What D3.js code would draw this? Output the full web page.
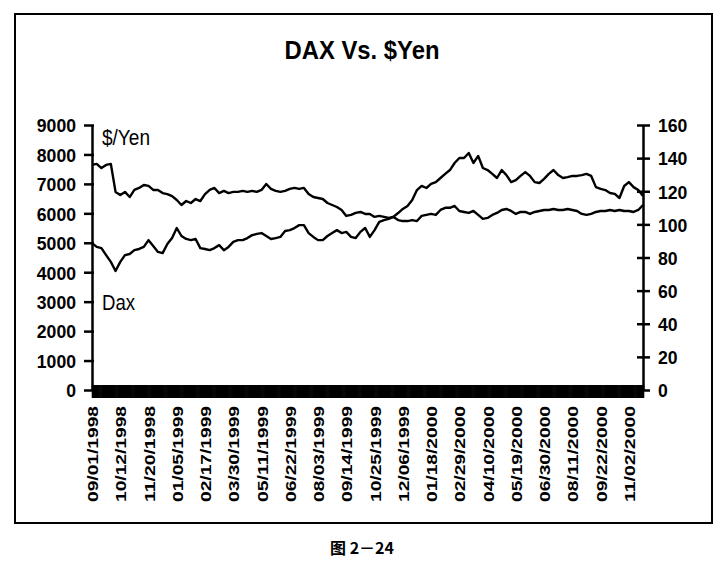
<!DOCTYPE html>
<html>
<head>
<meta charset="utf-8">
<script src="https://d3js.org/d3.v7.min.js"></script>
<style>
  body { margin: 0; background: #fff; }
</style>
</head>
<body>
<div id="chart"></div>
<script>
  const W = 725, H = 565

  // category labels shown under the x axis (one every 30 trading days)
  const tickLabels = ["09/01/1998", "10/12/1998", "11/20/1998", "01/05/1999", "02/17/1999",
    "03/30/1999", "05/11/1999", "06/22/1999", "08/03/1999", "09/14/1999",
    "10/25/1999", "12/06/1999", "01/18/2000", "02/29/2000", "04/10/2000",
    "05/19/2000", "06/30/2000", "08/11/2000", "09/22/2000", "11/02/2000"]
  const weeksPerLabel = 6

  // weekly readings, DAX (left axis)
  const dax = [4990, 4860, 4820, 4580, 4350, 4040, 4350, 4580, 4620, 4750,
    4790, 4860, 5090, 4890, 4690, 4650, 4960, 5160, 5500, 5230,
    5130, 5090, 5130, 4820, 4790, 4750, 4820, 4920, 4750, 4860,
    5030, 5090, 5090, 5160, 5260, 5300, 5330, 5230, 5130, 5160,
    5200, 5400, 5430, 5500, 5600, 5600, 5330, 5200, 5090, 5090,
    5230, 5330, 5430, 5330, 5370, 5200, 5160, 5370, 5500, 5200,
    5430, 5710, 5770, 5810, 5880, 6010, 6150, 6250, 6450, 6790,
    6930, 6860, 7000, 7060, 7200, 7340, 7470, 7710, 7880, 7880,
    8050, 7710, 7950, 7540, 7470, 7340, 7200, 7470, 7300, 7060,
    7130, 7270, 7400, 7270, 7060, 7030, 7170, 7340, 7470, 7300,
    7200, 7230, 7270, 7270, 7300, 7340, 7270, 6890, 6830, 6790,
    6690, 6660, 6520, 6930, 7060, 6890, 6790, 6590]

  // weekly readings, $/Yen (right axis)
  const yen = [135.9, 136.5, 134.0, 135.9, 136.5, 119.6, 117.7, 119.6, 116.5, 120.8,
    122.0, 123.8, 123.2, 120.8, 120.8, 118.9, 118.3, 117.1, 114.7, 111.7,
    114.1, 112.9, 115.3, 114.1, 118.3, 120.8, 122.0, 118.9, 120.2, 118.9,
    119.6, 119.6, 120.2, 119.6, 120.2, 119.6, 120.8, 124.4, 121.4, 120.2,
    119.6, 120.2, 121.4, 122.0, 121.4, 122.0, 118.3, 116.5, 115.9, 115.3,
    112.9, 111.7, 110.5, 108.7, 105.1, 105.7, 106.9, 107.5, 106.3, 106.3,
    104.5, 105.1, 104.5, 103.9, 104.5, 102.6, 102.0, 102.0, 102.6, 102.0,
    105.1, 105.7, 106.3, 105.7, 108.7, 110.0, 110.0, 111.1, 108.1, 107.5,
    106.9, 108.1, 105.7, 103.3, 103.9, 105.7, 106.9, 108.7, 109.3, 108.1,
    106.3, 107.5, 107.5, 106.3, 107.5, 108.1, 108.7, 108.7, 109.3, 108.7,
    108.7, 109.3, 108.7, 108.1, 106.3, 105.7, 106.3, 107.5, 108.1, 108.1,
    108.7, 108.1, 108.7, 108.1, 108.1, 107.5, 108.7, 111.7]

  const leftTicks = [0, 1000, 2000, 3000, 4000, 5000, 6000, 7000, 8000, 9000]
  const rightTicks = [0, 20, 40, 60, 80, 100, 120, 140, 160]

  const sans = "'Liberation Sans', Arial, sans-serif"
  const digitW = 9.8   // squeezed width of one tick-label digit

  const svg = d3.select("#chart")
    .append("svg")
    .attr("width", W)
    .attr("height", H)

  // chart frame
  svg.append("rect")
    .attr("x", 15).attr("y", 14)
    .attr("width", 697).attr("height", 509)
    .attr("fill", "none")
    .attr("stroke", "#000")
    .attr("stroke-width", 2)

  const x = d3.scaleLinear().domain([0, dax.length - 1]).range([92, 643])
  const yL = d3.scaleLinear().domain([0, 9000]).range([390, 125])
  const yR = d3.scaleLinear().domain([0, 160]).range([390, 125])

  // dense category tick marks -> the black band under the plot
  const band = svg.append("g")
    .attr("transform", "translate(0,385)")
    .call(d3.axisBottom(x)
      .tickValues(d3.range(0, dax.length - 0.99, 0.2))
      .tickSize(13)
      .tickFormat(""))
  band.select(".domain").remove()
  band.selectAll("line").attr("stroke-width", 1.6)

  // rotated date labels
  const xAxis = svg.append("g")
    .attr("transform", "translate(0,406)")
    .call(d3.axisBottom(x)
      .tickValues(tickLabels.map((d, i) => i * weeksPerLabel))
      .tickSize(0)
      .tickFormat((d, i) => tickLabels[i]))
  xAxis.select(".domain").remove()
  xAxis.selectAll("text")
    .attr("x", 0).attr("y", 0).attr("dy", "0.37em")
    .attr("transform", "rotate(-90)")
    .attr("text-anchor", "end")
    .attr("font-family", sans)
    .attr("font-weight", "bold")
    .attr("font-size", 15)
    .attr("textLength", 96)
    .attr("lengthAdjust", "spacingAndGlyphs")

  function styleNums(sel) {
    sel.attr("font-family", sans)
      .attr("font-weight", "bold")
      .attr("font-size", 19)
      .attr("dy", "0.36em")
      .attr("textLength", function () { return this.textContent.length * digitW })
      .attr("lengthAdjust", "spacingAndGlyphs")
  }

  // left axis
  const left = svg.append("g")
    .attr("transform", "translate(92,0)")
    .call(d3.axisLeft(yL).tickValues(leftTicks).tickFormat(d3.format("d"))
      .tickSize(8).tickSizeOuter(0).tickPadding(8))
  left.select(".domain").attr("stroke-width", 2.5)
  left.selectAll("line").attr("x1", 2).attr("stroke-width", 2.5)
  left.selectAll("text").call(styleNums)

  // right axis
  const right = svg.append("g")
    .attr("transform", "translate(643,0)")
    .call(d3.axisRight(yR).tickValues(rightTicks).tickFormat(d3.format("d"))
      .tickSize(7).tickSizeOuter(0).tickPadding(8))
  right.select(".domain").attr("stroke-width", 2.5)
  right.selectAll("line").attr("x1", -6).attr("stroke-width", 2.5)
  right.selectAll("text").call(styleNums)

  // the two series
  const daxLine = d3.line().x((d, i) => x(i)).y(d => yL(d))
  const yenLine = d3.line().x((d, i) => x(i)).y(d => yR(d))

  svg.append("path")
    .datum(yen)
    .attr("d", yenLine)
    .attr("fill", "none")
    .attr("stroke", "#000")
    .attr("stroke-width", 2.4)
    .attr("stroke-linejoin", "round")

  svg.append("path")
    .datum(dax)
    .attr("d", daxLine)
    .attr("fill", "none")
    .attr("stroke", "#000")
    .attr("stroke-width", 2.4)
    .attr("stroke-linejoin", "round")

  // series labels
  svg.append("text")
    .attr("x", 102).attr("y", 145)
    .attr("font-family", sans)
    .attr("font-size", 22)
    .attr("textLength", 48)
    .attr("lengthAdjust", "spacingAndGlyphs")
    .text("$/Yen")
  svg.append("text")
    .attr("x", 102).attr("y", 310)
    .attr("font-family", sans)
    .attr("font-size", 22)
    .attr("textLength", 33)
    .attr("lengthAdjust", "spacingAndGlyphs")
    .text("Dax")

  // title
  svg.append("text")
    .attr("x", 362).attr("y", 59)
    .attr("text-anchor", "middle")
    .attr("font-family", sans)
    .attr("font-weight", "bold")
    .attr("font-size", 25)
    .attr("textLength", 155)
    .attr("lengthAdjust", "spacingAndGlyphs")
    .text("DAX Vs. $Yen")

  // figure caption
  svg.append("text")
    .attr("x", 362).attr("y", 554)
    .attr("text-anchor", "middle")
    .attr("font-family", "'Noto Sans CJK SC', sans-serif")
    .attr("font-weight", "bold")
    .attr("font-size", 16)
    .text("图 2－24")
</script>
</body>
</html>
